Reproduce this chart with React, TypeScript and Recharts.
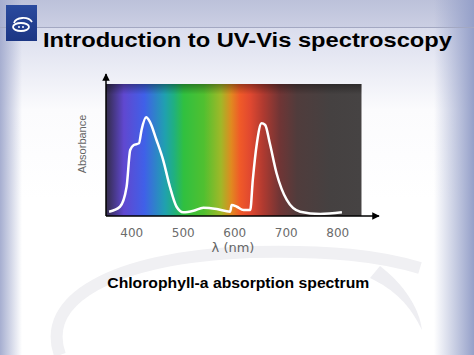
import { LineChart, Line, XAxis, YAxis, ReferenceArea } from "recharts";

// chlorophyll-a absorption
const wavelengths = [356, 377, 390, 397, 404, 414, 419, 428, 435, 448, 461, 474, 487, 500, 520, 539, 565, 591, 594, 604, 617, 630, 635, 643, 652, 659, 668, 681, 701, 727, 766, 808];
const absorbance = [0.03, 0.065, 0.206, 0.465, 0.5, 0.512, 0.606, 0.695, 0.664, 0.535, 0.394, 0.206, 0.065, 0.026, 0.037, 0.058, 0.049, 0.03, 0.077, 0.065, 0.042, 0.042, 0.254, 0.514, 0.653, 0.641, 0.512, 0.303, 0.113, 0.03, 0.014, 0.026];
const xTicks = [400, 500, 600, 700, 800];

const spectrumStops: [number, string][] = [
  [0, "#38304f"], [0.012, "#3a3060"], [0.07, "#6048d0"], [0.15, "#4060e8"], [0.23, "#20a0b0"],
  [0.266, "#20b080"], [0.304, "#30c040"], [0.383, "#50c030"], [0.45, "#a0b828"], [0.49, "#e08a20"],
  [0.524, "#f05a28"], [0.565, "#e04830"], [0.615, "#b03a30"], [0.68, "#703535"], [0.748, "#503c3c"],
  [0.877, "#454141"], [1, "#464343"],
];

const data = wavelengths.map((w, i) => ({ nm: w, abs: absorbance[i] }));

const AbsLabel = ({ viewBox }: any) => {
  const cx = viewBox.x + 6;
  const cy = viewBox.y + viewBox.height / 2 - 1;
  return (
    <text x={cx} y={cy} transform={`rotate(-90 ${cx} ${cy})`} textAnchor="middle" dominantBaseline="central"
      fill="#666" fontSize={11} fontFamily="Liberation Sans Narrow, Liberation Sans, Arial">Absorbance</text>
  );
};

const NmLabel = ({ viewBox }: any) => (
  <text x={viewBox.x + 127} y={viewBox.y + 36} textAnchor="middle" fill="#666" fontSize={13}
    fontFamily="DejaVu Sans, sans-serif">λ (nm)</text>
);

export default function App() {
  return (
    <div style={{ position: "absolute", left: 0, top: 0, width: 474, height: 355, overflow: "hidden",
      background: "linear-gradient(to right, #a6aed0 0px, rgba(255,255,255,0) 22px), linear-gradient(to left, #95a0c9 0px, rgba(255,255,255,0) 40px), linear-gradient(to bottom, #bcc1da 0px, #cbcfe3 27px, #dadded 28px, #fbfbfd 110px, #ffffff 200px)" }}>
      <div style={{ position: "absolute", left: 0, top: 27, width: 474, height: 1, background: "#a3a8c2" }} />
      {/* faint swirl of the slide template */}
      <svg width={474} height={355} style={{ position: "absolute", left: 0, top: 0 }}>
        <path d="M 60 355 C 40 300, 110 258, 250 252 C 330 250, 380 256, 420 268" fill="none" stroke="#f0f0f3" strokeWidth={12} />
        <path d="M 380 266 C 405 285, 420 310, 422 330 C 410 305, 395 290, 370 278 Z" fill="#eeeef2" />
      </svg>
      <div style={{ position: "absolute", left: 6, top: 5, width: 31, height: 36, background: "linear-gradient(#2a4a9e, #1c3684)" }}>
        <svg width={31} height={36}>
          <ellipse cx={15} cy={22} rx={8} ry={4} fill="none" stroke="#fff" strokeWidth={1.8} />
          <path d="M 8 18 C 10 12, 22 11, 26 17" fill="none" stroke="#fff" strokeWidth={1.8} />
          <circle cx={13} cy={22} r={1} fill="#fff" />
          <circle cx={17} cy={22} r={1} fill="#fff" />
        </svg>
      </div>
      <div style={{ position: "absolute", left: 0, top: 0 }}>
        <LineChart width={474} height={355} data={data} margin={{ top: 74, right: 95, bottom: 99, left: 76 }}>
          <defs>
            <linearGradient id="spectrum" x1="0" y1="0" x2="1" y2="0">
              {spectrumStops.map(([o, c]) => <stop key={o} offset={o} stopColor={c} />)}
            </linearGradient>
            <linearGradient id="topShade" x1="0" y1="0" x2="0" y2="1">
              <stop offset={0} stopColor="#000" stopOpacity={0.35} />
              <stop offset={0.08} stopColor="#000" stopOpacity={0} />
            </linearGradient>
            <marker id="arrow" viewBox="0 0 10 10" refX={9} refY={5} markerWidth={5} markerHeight={5} orient="auto-start-reverse">
              <path d="M 0 0 L 10 5 L 0 10 z" fill="#000" />
            </marker>
          </defs>
          <XAxis dataKey="nm" type="number" domain={[350, 880]} ticks={xTicks} height={40} tickLine={false} tickMargin={6}
            axisLine={{ stroke: "#000", strokeWidth: 1.5, markerEnd: "url(#arrow)" }}
            tick={{ fill: "#6b6b6b", fontSize: 12, fontFamily: "DejaVu Sans, sans-serif" }} label={<NmLabel />} />
          <YAxis type="number" domain={[0, 1]} width={30} tick={false} tickLine={false}
            axisLine={{ stroke: "#000", strokeWidth: 1.5, markerStart: "url(#arrow)" }} label={<AbsLabel />} />
          <ReferenceArea x1={350} x2={846} y1={0} y2={0.93} fill="url(#spectrum)" fillOpacity={1} stroke="none" />
          <ReferenceArea x1={350} x2={846} y1={0} y2={0.93} fill="url(#topShade)" fillOpacity={1} stroke="none" />
          <Line dataKey="abs" type="monotone" stroke="#ffffff" strokeWidth={2.5} dot={false} isAnimationActive={false} />
        </LineChart>
      </div>
      <svg width={474} height={355} style={{ position: "absolute", left: 0, top: 0, pointerEvents: "none" }}>
        <text x={247.5} y={47} textAnchor="middle" fontFamily="Liberation Sans, Arial, sans-serif" fontWeight="bold"
          fontSize={21} textLength={409} lengthAdjust="spacingAndGlyphs" fill="#000">Introduction to UV-Vis spectroscopy</text>
        <text x={238.3} y={288} textAnchor="middle" fontFamily="Liberation Sans, Arial, sans-serif" fontWeight="bold"
          fontSize={14} textLength={262} lengthAdjust="spacingAndGlyphs" fill="#000">Chlorophyll-a absorption spectrum</text>
      </svg>
    </div>
  );
}
